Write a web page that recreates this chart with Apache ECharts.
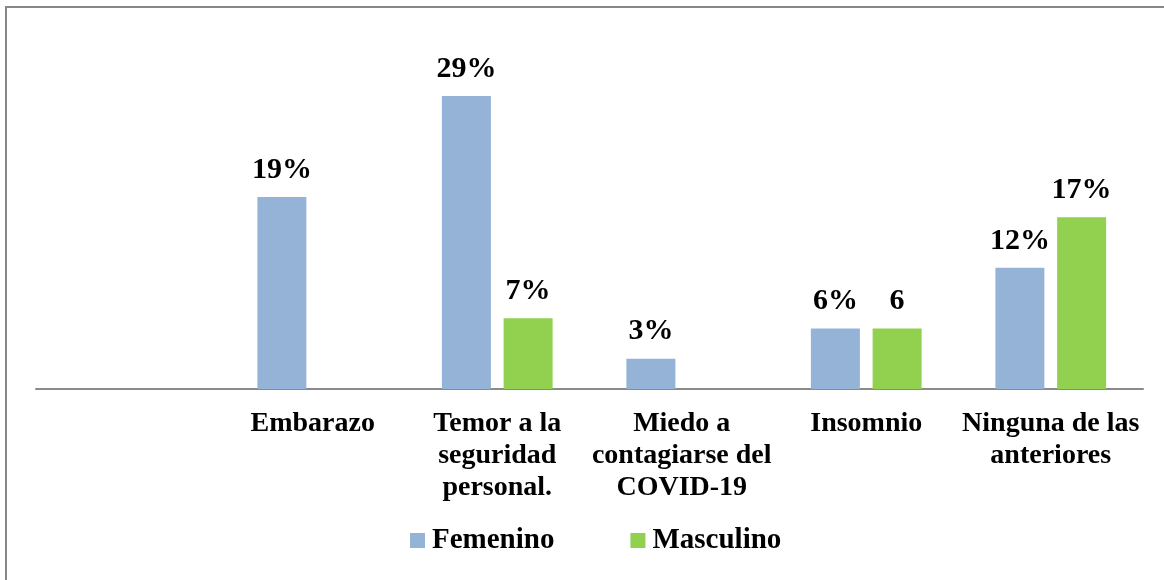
<!DOCTYPE html>
<html>
<head>
<meta charset="utf-8">
<script src="https://cdn.jsdelivr.net/npm/echarts@6/dist/echarts.min.js"></script>
<style>
    html, body { margin: 0; padding: 0; background: #fff; }
    #chart { width: 1164px; height: 580px; }
</style>
</head>
<body>
<div id="chart"></div>
<script>
    // first category is empty in the original chart
    let categories = ['', 'Embarazo', 'Temor a la\nseguridad\npersonal.', 'Miedo a\ncontagiarse del\nCOVID-19', 'Insomnio', 'Ninguna de las\nanteriores'];
    let femenino = [null, 19, 29, 3, 6, 12];
    let masculino = [null, null, 7, null, 6, 17];
    let femeninoLabels = ['', '19%', '29%', '3%', '6%', '12%'];
    let masculinoLabels = ['', '', '7%', '', '6', '17%'];

    const serif = '"Liberation Serif", "Times New Roman", serif';

    let chart = echarts.init(document.getElementById('chart'));

    function valueLabel(texts) {
        return {
            show: true,
            position: 'top',
            distance: 12,
            fontFamily: serif,
            fontWeight: 'bold',
            fontSize: 30,
            color: '#000',
            formatter: p => texts[p.dataIndex]
        };
    }

    chart.setOption({
        animation: false,
        graphic: [{
            type: 'rect',
            shape: { x: 6, y: 7, width: 1180, height: 600 },
            style: { fill: 'none', stroke: '#878787', lineWidth: 2 },
            silent: true
        }],
        legend: {
            data: ['Femenino', 'Masculino'],
            left: 405,
            top: 521,
            itemWidth: 15,
            itemHeight: 15,
            itemGap: 76,
            icon: 'rect',
            textStyle: {
                fontFamily: serif,
                fontWeight: 'bold',
                fontSize: 29,
                color: '#000',
                padding: [0, 0, 0, 2]
            }
        },
        grid: { left: 36, right: 21, top: 35.5, bottom: 191 },
        xAxis: {
            type: 'category',
            data: categories,
            axisLine: { lineStyle: { color: '#8a8a8a', width: 2 } },
            axisTick: { show: false },
            axisLabel: {
                interval: 0,
                margin: 19,
                fontFamily: serif,
                fontWeight: 'bold',
                fontSize: 28,
                lineHeight: 32,
                color: '#000'
            }
        },
        yAxis: {
            type: 'value',
            min: 0,
            max: 35,
            show: false,
            splitLine: { show: false }
        },
        series: [{
            name: 'Femenino',
            type: 'bar',
            data: femenino,
            barWidth: 49,
            barGap: '26%',
            itemStyle: { color: '#95b3d7' },
            label: valueLabel(femeninoLabels)
        }, {
            name: 'Masculino',
            type: 'bar',
            data: masculino,
            barWidth: 49,
            itemStyle: { color: '#92d050' },
            label: valueLabel(masculinoLabels)
        }]
    });
</script>
</body>
</html>
